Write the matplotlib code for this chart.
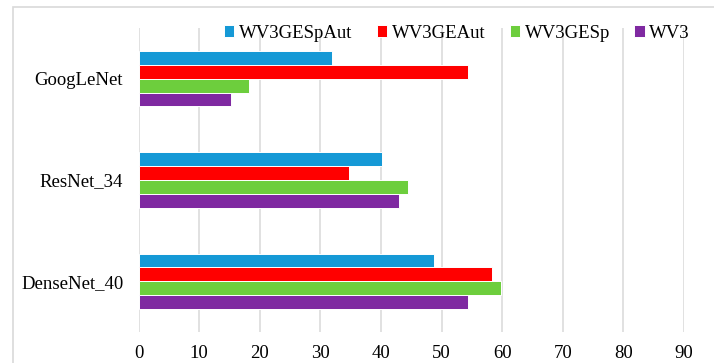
import matplotlib.pyplot as plt
import numpy as np
from matplotlib.patches import Rectangle

plt.rcParams['font.family'] = ['Liberation Serif', 'DejaVu Serif']

# modelos (de baixo para cima) e séries
modelos = ['DenseNet_40', 'ResNet_34', 'GoogLeNet']
series = ['WV3GESpAut', 'WV3GEAut', 'WV3GESp', 'WV3']
cores = ['#1599D6', '#FF0000', '#6DCE3D', '#7F29A1']

wv3gespaut = [48.7, 40.2, 32.0]
wv3geaut = [58.3, 34.7, 54.3]
wv3gesp = [59.8, 44.5, 18.2]
wv3 = [54.3, 43.0, 15.3]
valores = [wv3gespaut, wv3geaut, wv3gesp, wv3]

x_ticks = list(range(0, 100, 10))


def main():
    fig = plt.figure(figsize=(7.14, 3.63), dpi=100)
    # moldura cinza clara em volta do gráfico
    fig.patches.append(Rectangle((13 / 714, -0.05), 1.0, 1 - 7 / 363 + 0.05,
                                 transform=fig.transFigure, fill=False,
                                 edgecolor='#D9D9D9', linewidth=1.2))

    ax = fig.add_axes([138.5 / 714, 31 / 363, (684 - 138.5) / 714, (332 - 28) / 363])

    y = np.arange(len(modelos))
    h = 0.137
    offsets = [1.5 * h, 0.5 * h, -0.5 * h, -1.5 * h]
    for nome, cor, vals, off in zip(series, cores, valores, offsets):
        ax.barh(y + off, vals, height=h, color=cor, edgecolor='white',
                linewidth=0.7, label=nome, zorder=3)

    ax.set_xlim(0, 90)
    ax.set_ylim(-0.5, 2.5)
    ax.set_xticks(x_ticks)
    ax.set_yticks(y)
    ax.set_yticklabels(modelos)
    ax.tick_params(axis='both', length=0, labelsize=13.5, colors='black')
    ax.tick_params(axis='y', pad=11)
    ax.tick_params(axis='x', pad=9)
    ax.grid(axis='x', color='#D9D9D9', linewidth=1.1, zorder=0)
    for s in ax.spines.values():
        s.set_visible(False)

    fig.legend(loc='center', bbox_to_anchor=(457 / 714, 1 - 33 / 363), ncol=4,
               frameon=False, fontsize=13.5, handlelength=0.55, handleheight=0.55,
               handletextpad=0.25, columnspacing=1.3)

    fig.savefig('out.png', dpi=100)
    plt.close(fig)


if __name__ == '__main__':
    main()
